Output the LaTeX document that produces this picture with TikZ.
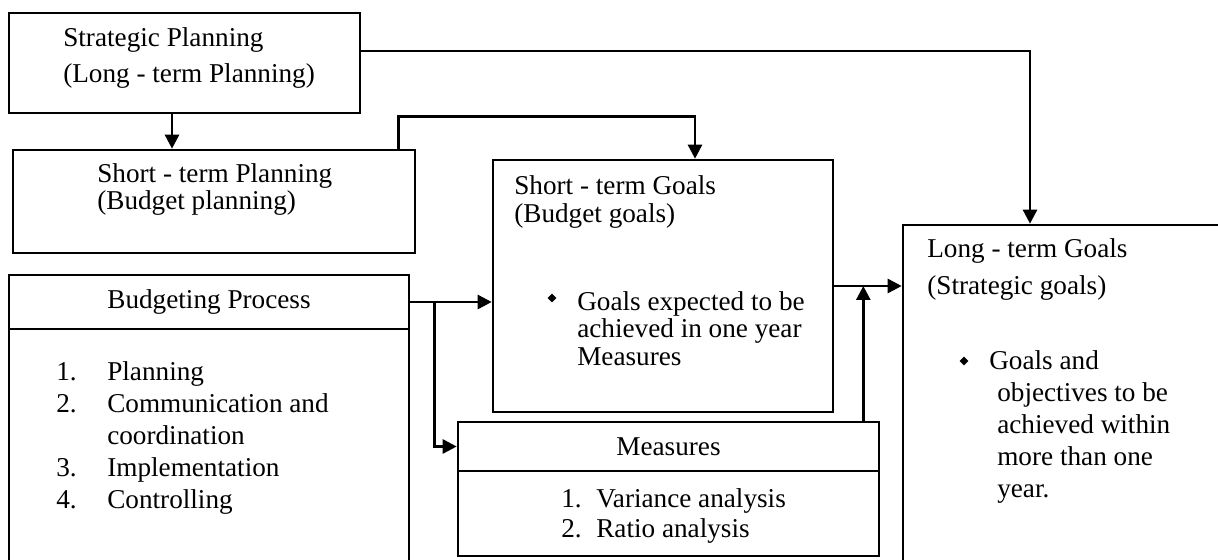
\documentclass[tikz,border=0pt]{standalone}
\usepackage{fontspec}
\setmainfont{Liberation Serif}
\usetikzlibrary{arrows.meta,fit,shapes.geometric}

\newcommand{\lnum}[2][25.5pt]{\makebox[#1][l]{#2}}

\tikzset{
  box/.style={draw, inner sep=0pt},
  txt/.style={inner sep=0pt, align=left, font=\fontsize{13.6pt}{#1}\selectfont},
  txt/.default=16pt,
  dot/.style={diamond, fill, inner sep=0pt, minimum size=5pt},
}

\begin{document}
\begin{tikzpicture}[x=0.5pt, y=-0.5pt, line width=1.3pt, >={Triangle[length=7pt,width=7pt]}]
		\useasboundingbox (0,0) rectangle (1218,560);
		% boxes
		\node[box, fit={(9,13) (360,113)}] (sp) {};
		\node[box, fit={(13,150) (415,253)}] (stp) {};
		\node[box, fit={(9,275) (409,580)}] (bp) {};
		\node[box, fit={(9,275) (409,329)}] (bph) {};
		\node[box, fit={(493,160) (833,412)}] (stg) {};
		\node[box, fit={(458,422) (879,556)}] (ms) {};
		\node[box, fit={(458,422) (879,471)}] (msh) {};
		\node[box, fit={(903,225) (1240,580)}] (ltg) {};
		% texts (anchored at the baseline of the last line)
		\node[txt=18pt, anchor=base west] (sptxt) at (62,83) {Strategic Planning\\(Long - term Planning)};
		\node[txt=13.5pt, anchor=base west] (stptxt) at (96,210) {Short - term Planning\\(Budget planning)};
		\node[txt] (bptxt) at (bph) {Budgeting Process};
		\node[txt=16pt, anchor=base west] (bplist) at (55,508) {\lnum{1.}Planning\\\lnum{2.}Communication and\\\lnum{}coordination\\\lnum{3.}Implementation\\\lnum{4.}Controlling};
		\node[txt=14pt, anchor=base west] (stgtxt) at (513,223) {Short - term Goals\\(Budget goals)};
		\node[dot] (stgdot) at (552,298) {};
		\node[txt=13.75pt, anchor=base west] (stglist) at (576,365) {Goals expected to be\\achieved in one year\\Measures};
		\node[txt] (mstxt) at (msh) {Measures};
		\node[txt=15pt, anchor=base west] (mslist) at (560,537) {\lnum[17.5pt]{1.}Variance analysis\\\lnum[17.5pt]{2.}Ratio analysis};
		\node[txt=18.5pt, anchor=base west] (lttxt) at (926,295) {Long - term Goals\\(Strategic goals)};
		\node[dot] (ltdot) at (964,361) {};
		\node[txt, anchor=base west] (ltfirst) at (988,370) {Goals and};
		\node[txt=15.9pt, anchor=base west] (ltlist) at (996,497) {objectives to be\\achieved within\\more than one\\year.};
		% connectors
		\draw[->] ([xshift=-6.25pt]sp.south) -- ([xshift=-6.25pt]sp.south |- stp.north);
		\draw[->] ([yshift=6pt]sp.east) -| ([xshift=-20.75pt]ltg.north);
		\draw[->] ([xshift=-9pt]stp.north east) -- ++(0,-32) -| ([xshift=16pt]stg.north);
		\draw[->] (bph.east) -- (bph.east -| stg.west);
		\draw[->] ([xshift=12pt]bph.east) |- (msh.west);
		\draw[->] (stg.east) -- (stg.east -| ltg.west);
		\draw[->] ([xshift=-8.5pt]ms.north east) -- ([xshift=-8.5pt]ms.north east |- stg.east);
	\end{tikzpicture}
\end{document}
